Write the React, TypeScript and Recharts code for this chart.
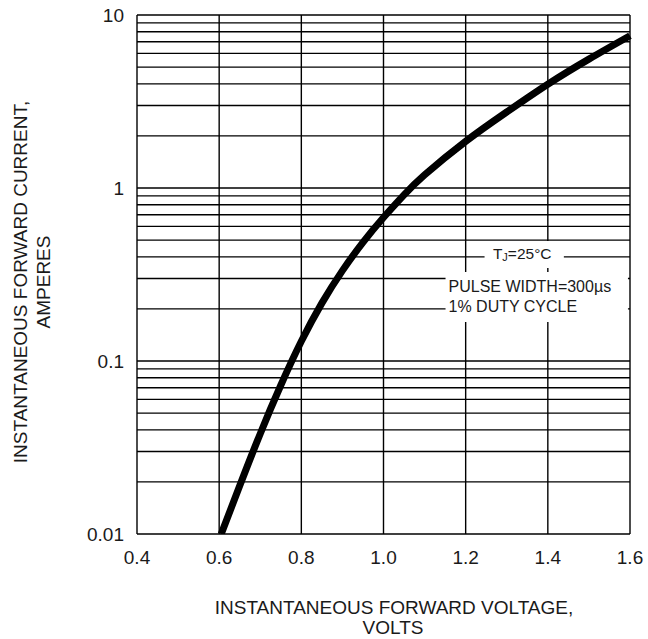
import React from "react";
import {
  LineChart,
  Line,
  XAxis,
  YAxis,
  CartesianGrid,
  ReferenceArea,
} from "recharts";

// forward voltage (V) vs instantaneous forward current (A)
const voltage = [0.605, 0.65, 0.7, 0.75, 0.8, 0.85, 0.9, 0.95, 1.0, 1.05, 1.1, 1.2, 1.3, 1.4, 1.5, 1.6];
const current = [0.01, 0.019, 0.038, 0.0724, 0.13, 0.216, 0.333, 0.485, 0.675, 0.912, 1.19, 1.86, 2.75, 3.98, 5.56, 7.59];

const xTicks = [0.4, 0.6, 0.8, 1.0, 1.2, 1.4, 1.6];
const yTicks = [
  0.01, 0.02, 0.03, 0.04, 0.05, 0.06, 0.07, 0.08, 0.09,
  0.1, 0.2, 0.3, 0.4, 0.5, 0.6, 0.7, 0.8, 0.9,
  1, 2, 3, 4, 5, 6, 7, 8, 9, 10,
];
const yDecades = [0.01, 0.1, 1, 10];
const yDecadeLabels = ["0.01", "0.1", "1", "10"];

const data = voltage.map((v, k) => ({ v, i: current[k] }));

const FONT = "'Liberation Sans', Arial, Helvetica, sans-serif";
const INK = "#1a1a1a";

function formatY(value: number) {
  const idx = yDecades.findIndex((d) => Math.abs(d - value) < 1e-9);
  return idx >= 0 ? yDecadeLabels[idx] : "";
}

function TjLabel(props: any) {
  const { x, y, width, height } = props.viewBox;
  return (
    <text
      x={x + width / 2 - 2}
      y={y + height / 2 + 5}
      textAnchor="middle"
      fontFamily={FONT}
      fontSize={15.5}
      fill={INK}
    >
      T
      <tspan fontSize={11} dy={2}>
        J
      </tspan>
      <tspan dy={-2}>=25°C</tspan>
    </text>
  );
}

function PulseLabel(props: any) {
  const { x, y } = props.viewBox;
  return (
    <text x={x + 3} y={y} fontFamily={FONT} fontSize={16} fill={INK}>
      <tspan x={x + 3} dy={20}>
        PULSE WIDTH=300µs
      </tspan>
      <tspan x={x + 3} dy={20}>
        1% DUTY CYCLE
      </tspan>
    </text>
  );
}

export default function App() {
  return (
    <div style={{ position: "absolute", left: 0, top: 0, width: 648, height: 639 }}>
      <LineChart
        width={648}
        height={639}
        data={data}
        margin={{ top: 15, right: 18, bottom: 0, left: 0 }}
      >
        <CartesianGrid stroke="#000" strokeWidth={1.4} />
        <XAxis
          dataKey="v"
          type="number"
          domain={[0.4, 1.6]}
          ticks={xTicks}
          tickFormatter={(v: number) => v.toFixed(1)}
          axisLine={false}
          tickLine={false}
          tickSize={0}
          tickMargin={17}
          height={105}
          tick={{ fontSize: 19, fill: INK, fontFamily: FONT }}
          interval={0}
        />
        <YAxis
          dataKey="i"
          scale="log"
          domain={[0.01, 10]}
          allowDataOverflow
          ticks={yTicks}
          tickFormatter={formatY}
          axisLine={false}
          tickLine={false}
          tickSize={0}
          tickMargin={13}
          width={137}
          tick={{ fontSize: 19, fill: INK, fontFamily: FONT }}
          interval={0}
        />
        <ReferenceArea
          x1={1.246}
          x2={1.439}
          y1={0.345}
          y2={0.494}
          fill="#fff"
          fillOpacity={1}
          stroke="none"
          ifOverflow="visible"
          label={<TjLabel />}
        />
        <ReferenceArea
          x1={1.151}
          x2={1.595}
          y1={0.168}
          y2={0.327}
          fill="#fff"
          fillOpacity={1}
          stroke="none"
          ifOverflow="visible"
          label={<PulseLabel />}
        />
        <Line
          dataKey="i"
          type="natural"
          stroke="#000"
          strokeWidth={7}
          dot={false}
          activeDot={false}
          isAnimationActive={false}
        />
      </LineChart>
      <svg
        width={648}
        height={639}
        style={{ position: "absolute", left: 0, top: 0, pointerEvents: "none" }}
      >
        <g fontFamily={FONT} fontSize={19} fill={INK} textAnchor="middle">
          <text x={394} y={614}>
            INSTANTANEOUS FORWARD VOLTAGE,
          </text>
          <text x={393} y={634}>
            VOLTS
          </text>
          <text x={20} y={282} dy="0.35em" transform="rotate(-90 20 282)">
            INSTANTANEOUS FORWARD CURRENT,
          </text>
          <text x={43} y={282} dy="0.35em" transform="rotate(-90 43 282)">
            AMPERES
          </text>
        </g>
      </svg>
    </div>
  );
}
